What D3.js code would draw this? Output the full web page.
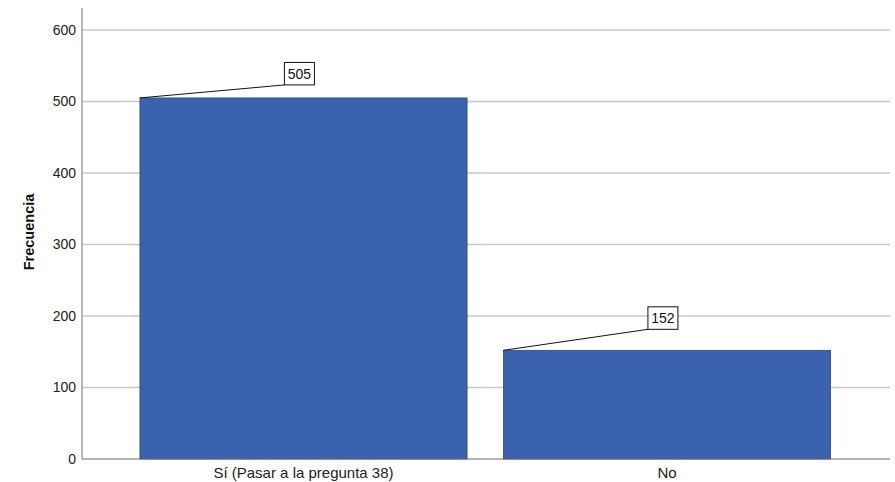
<!DOCTYPE html>
<html><head><meta charset="utf-8">
<script src="https://cdn.jsdelivr.net/npm/d3@7"></script>
<style>body{margin:0;background:#fff}svg{display:block}text{font-family:"Liberation Sans",Arial,sans-serif}</style>
</head><body>
<script>
const categories = ["Sí (Pasar a la pregunta 38)", "No"];
const values = [505, 152];
const yTicks = [0, 100, 200, 300, 400, 500, 600];
const labelRise = [13, 21];

const W = 895, H = 482;
const svg = d3.select("body").append("svg").attr("width", W).attr("height", H);
const mLeft = 82, mRight = 890, mTop = 8, mBottom = 459;

const x = d3.scaleBand().domain(categories).range([121.75, 848.75]).paddingInner(0.1).paddingOuter(0.05);
const y = d3.scaleLinear().domain([0, 600]).range([mBottom, 30]);

// gridlines
svg.append("g").selectAll("line").data(yTicks.filter(d => d > 0)).join("line")
  .attr("x1", mLeft).attr("x2", mRight)
  .attr("y1", d => y(d)).attr("y2", d => y(d))
  .attr("stroke", "#c8c8c8").attr("stroke-width", 1.5);

// y axis
const yAxis = svg.append("g").attr("transform", `translate(${mLeft},0)`)
  .call(d3.axisLeft(y).tickValues(yTicks).tickSize(0).tickPadding(6));
yAxis.select(".domain").remove();
yAxis.selectAll("text").attr("font-size", 14).attr("fill", "#222").attr("font-family", '"Liberation Sans",Arial,sans-serif');
svg.append("line").attr("x1", mLeft).attr("x2", mLeft).attr("y1", mTop).attr("y2", mBottom)
  .attr("stroke", "#8a8a8a").attr("stroke-width", 1.2);

// bars
svg.append("g").selectAll("rect").data(values).join("rect")
  .attr("x", (d, i) => x(categories[i]))
  .attr("y", d => y(d))
  .attr("width", x.bandwidth())
  .attr("height", d => mBottom - y(d))
  .attr("fill", "#3a62ae").attr("stroke", "#2c4a85").attr("stroke-width", 0.8);

// baseline
svg.append("line").attr("x1", mLeft).attr("x2", mRight).attr("y1", mBottom).attr("y2", mBottom)
  .attr("stroke", "#6a6a6a").attr("stroke-width", 1.2);

// x axis labels
svg.append("g").selectAll("text").data(categories).join("text")
  .attr("x", d => x(d) + x.bandwidth() / 2).attr("y", 478)
  .attr("text-anchor", "middle").attr("font-size", 15).attr("fill", "#222").text(d => d);

// y title
svg.append("text").attr("transform", "translate(34,232) rotate(-90)")
  .attr("text-anchor", "middle").attr("font-size", 14.5).attr("font-weight", "bold").attr("fill", "#111")
  .text("Frecuencia");

// value labels with leader lines
const lab = svg.append("g");
values.forEach((v, i) => {
  const bx = x(categories[i]), by = y(v);
  const lx = bx + 144.5, ly = by - labelRise[i];
  lab.append("line").attr("x1", bx).attr("y1", by).attr("x2", lx).attr("y2", ly)
    .attr("stroke", "#111").attr("stroke-width", 1);
  const t = lab.append("text").attr("x", lx + 15).attr("y", ly - 6)
    .attr("text-anchor", "middle").attr("font-size", 14).attr("fill", "#111").text(v);
  const bb = t.node().getBBox();
  lab.insert("rect", "text").attr("x", lx).attr("y", ly - 22.5).attr("width", Math.max(30, bb.width + 6)).attr("height", 22.5)
    .attr("fill", "#fff").attr("stroke", "#111").attr("stroke-width", 1);
});
</script>
</body></html>
